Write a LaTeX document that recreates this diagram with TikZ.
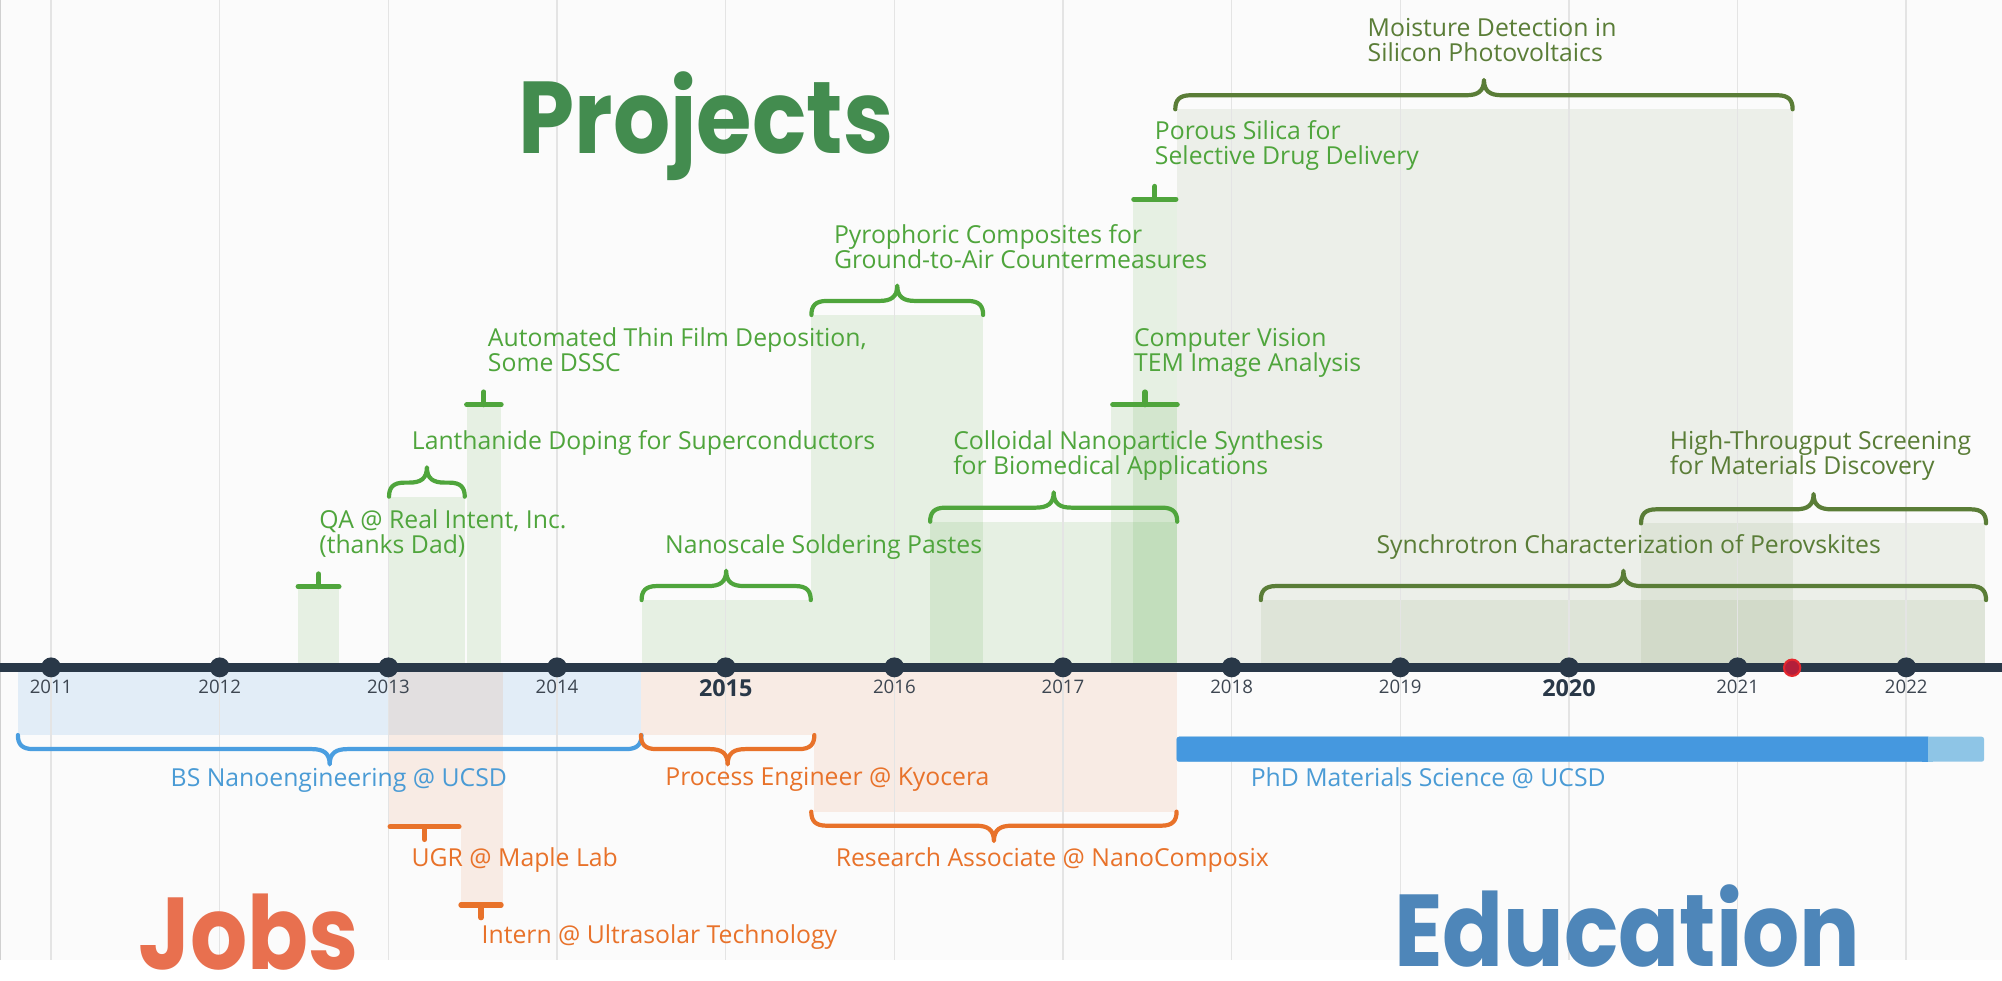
\documentclass[tikz,border=0pt]{standalone}
\usepackage{fontspec}
\setmainfont{Open Sans}
\newfontfamily\titlefont{Poppins}
\definecolor{bg}{HTML}{FBFBFB}
\definecolor{gridc}{HTML}{E4E4E4}
\definecolor{axisc}{HTML}{293848}
\definecolor{yearc}{HTML}{3D4651}
\definecolor{pgreen}{HTML}{4FA53C}
\definecolor{polive}{HTML}{5A7D37}
\definecolor{jorange}{HTML}{E8722A}
\definecolor{eblue}{HTML}{4A9BD5}
\definecolor{ebrace}{HTML}{4A9EE0}
\definecolor{tgreen}{HTML}{438C4F}
\definecolor{torange}{HTML}{E8704F}
\definecolor{tblue}{HTML}{4E86B9}
\definecolor{phddark}{HTML}{4598DF}
\definecolor{phdlight}{HTML}{8EC5E6}
\definecolor{reddot}{HTML}{B31E3A}
\definecolor{redring}{HTML}{E5282E}

% brace pointing up: x1, x2, y0 (tips), style
\newcommand{\UpBrace}[4]{%
  \draw[#4] (#1,#3) .. controls (#1,{#3-7}) and ({#1+3},{#3-11}) .. ({#1+12},{#3-11})
    -- ({(#1+#2)/2-14},{#3-11}) .. controls ({(#1+#2)/2-5},{#3-11}) and ({(#1+#2)/2},{#3-14}) .. ({(#1+#2)/2},{#3-23})
    .. controls ({(#1+#2)/2},{#3-14}) and ({(#1+#2)/2+5},{#3-11}) .. ({(#1+#2)/2+14},{#3-11})
    -- ({#2-12},{#3-11}) .. controls ({#2-3},{#3-11}) and (#2,{#3-7}) .. (#2,#3);}
% brace pointing down
\newcommand{\DownBrace}[4]{%
  \draw[#4] (#1,#3) .. controls (#1,{#3+7}) and ({#1+3},{#3+11}) .. ({#1+12},{#3+11})
    -- ({(#1+#2)/2-14},{#3+11}) .. controls ({(#1+#2)/2-5},{#3+11}) and ({(#1+#2)/2},{#3+14}) .. ({(#1+#2)/2},{#3+23})
    .. controls ({(#1+#2)/2},{#3+14}) and ({(#1+#2)/2+5},{#3+11}) .. ({(#1+#2)/2+14},{#3+11})
    -- ({#2-12},{#3+11}) .. controls ({#2-3},{#3+11}) and (#2,{#3+7}) .. (#2,#3);}
% tee markers
\newcommand{\UpTee}[4]{%
  \draw[#4] (#1,#3) -- (#2,#3);
  \draw[#4] ({(#1+#2)/2},#3) -- ({(#1+#2)/2},{#3-10});}
\newcommand{\DownTee}[4]{%
  \draw[#4] (#1,#3) -- (#2,#3);
  \draw[#4] ({(#1+#2)/2},#3) -- ({(#1+#2)/2},{#3+10});}

\tikzset{
  lab/.style={anchor=base west, align=left, inner sep=0pt, font=\fontsize{19.4}{19.6}\selectfont},
  glab/.style={lab, text=pgreen},
  olab/.style={lab, text=polive},
  jlab/.style={lab, text=jorange},
  elab/.style={lab, text=eblue},
  gbr/.style={draw=pgreen, line width=3.3pt, line cap=round, line join=round},
  obr/.style={draw=polive, line width=3.3pt, line cap=round, line join=round},
  jbr/.style={draw=jorange, line width=3.3pt, line cap=round, line join=round},
  ebr/.style={draw=ebrace, line width=3.3pt, line cap=round, line join=round},
  gtee/.style={draw=pgreen, line width=4pt, line cap=round},
  jtee/.style={draw=jorange, line width=4pt, line cap=round},
  gcol/.style={fill=pgreen, fill opacity=0.12},
  ocol/.style={fill=polive, fill opacity=0.09},
  jcol/.style={fill=jorange, fill opacity=0.11},
  ecol/.style={fill=ebrace, fill opacity=0.14},
  yearlab/.style={anchor=base, inner sep=0pt, text=yearc, font=\fontsize{14.6}{16}\selectfont},
  yearbold/.style={anchor=base, inner sep=0pt, text=axisc, font=\fontsize{18.3}{20}\selectfont\bfseries},
  title/.style={anchor=base west, inner sep=0pt, font=\titlefont\bfseries\fontsize{80}{90}\selectfont},
}

\begin{document}
\begin{tikzpicture}[x=1pt,y=-1pt]
\useasboundingbox (0,0) rectangle (1568,767.6);
\clip (0,0) rectangle (1568,767.6);
% background
\fill[white] (0,0) rectangle (1568,767.6);
\fill[bg] (0,0) rectangle (1568,752);
\draw[gridc!80!gray, line width=1pt] (0.6,0) -- (0.6,752);

% ---- project columns
\fill[gcol] (233.5,459.5) rectangle (265.5,522);
\fill[gcol] (304.7,389) rectangle (364,522);
\fill[gcol] (365.5,317) rectangle (392.5,522);
\fill[gcol] (502.5,470) rectangle (635,522);
\fill[gcol] (635.5,246.7) rectangle (770,522);
\fill[gcol] (728.5,408.6) rectangle (922,522);
\fill[gcol] (870,317) rectangle (922,522);
\fill[gcol] (887,156) rectangle (922,522);
\fill[ocol] (922,85.6) rectangle (1404,522);
\fill[ocol] (987.5,470) rectangle (1555,522);
\fill[ocol] (1285.3,409.9) rectangle (1555,522);
% ---- job / education columns
\fill[ecol] (14,526) rectangle (502.4,575.7);
\fill[jcol] (502,526) rectangle (637.8,575.7);
\fill[jcol] (637.8,526) rectangle (921.5,635.7);
\fill[jcol] (304,526) rectangle (360.7,647.5);
\fill[jcol] (360.7,526) rectangle (393.6,708.8);

% grid lines and years
\foreach \yr [count=\i from 0] in {2011,...,2022} {
  \draw[gridc, line width=1.2pt] ({40+132.09*\i},0) -- ({40+132.09*\i},752);
}
\draw[axisc, line width=7.6pt] (0,522.7) -- (1568,522.7);
\foreach \yr [count=\i from 0] in {2011,...,2022} {
  \fill[axisc] ({40+132.09*\i},522.7) circle (7.8pt);
  \node[coordinate] (d\yr) at ({40+132.09*\i},522.7) {};
}
\foreach \yr in {2011,2012,2013,2014,2016,2017,2018,2019,2021,2022} {
  \node[yearlab] (y\yr) at ([yshift=-20.8pt]d\yr) {\yr};
}
\node[yearbold] (y2015) at ([yshift=-22.9pt]d2015) {2015};
\node[yearbold] (y2020) at ([yshift=-22.9pt]d2020) {2020};
\filldraw[fill=reddot, draw=redring, line width=1.6pt] (1403.6,523) circle (6.4pt);
\node[coordinate] (now) at (1403.6,523) {};

% ---- PhD bar
\fill[phdlight, rounded corners=2pt] (921.5,577) rectangle (1554,596.6);
\fill[phddark, rounded corners=2pt] (921.5,577) rectangle (1512,596.6);
\fill[phddark] (1505,577) rectangle (1510,596.6);
\fill[phdlight] (1510,577) rectangle (1514,596.6);

% ---- project markers
\UpTee{233.5}{265.5}{459.5}{gtee}
\UpBrace{304.7}{364}{389}{gbr}
\UpTee{365.5}{392.5}{317}{gtee}
\UpBrace{502.5}{635}{470}{gbr}
\UpBrace{635.5}{770}{246.7}{gbr}
\UpBrace{728.5}{922}{408.6}{gbr}
\UpTee{871.5}{922}{317}{gtee}
\UpTee{888}{921}{156}{gtee}
\UpBrace{920.5}{1404}{85.6}{obr}
\UpBrace{987.5}{1555.5}{470}{obr}
\UpBrace{1285.3}{1555.5}{409.9}{obr}

% ---- job / education markers
\DownBrace{14}{502.4}{575.7}{ebr}
\DownBrace{502}{637.8}{575.7}{jbr}
\DownBrace{635.4}{921.5}{635.7}{jbr}
\DownTee{305.5}{359.5}{647.5}{jtee}
\DownTee{361}{392.5}{708.8}{jtee}

% ---- project labels (base = last line)
\node[glab] (qa) at (250,433.6) {QA @ Real Intent, Inc.\\(thanks Dad)};
\node[glab] (lan) at (322.4,352.4) {Lanthanide Doping for Superconductors};
\node[glab] (atf) at (382,291.1) {Automated Thin Film Deposition,\\Some DSSC};
\node[glab] (nsp) at (520.7,433.4) {Nanoscale Soldering Pastes};
\node[glab] (pyr) at (653,210.6) {Pyrophoric Composites for\\Ground-to-Air Countermeasures};
\node[glab] (col) at (746.4,371.6) {Colloidal Nanoparticle Synthesis\\for Biomedical Applications};
\node[glab] (cv) at (888,291.1) {Computer Vision\\TEM Image Analysis};
\node[glab] (por) at (904.4,129.2) {Porous Silica for\\Selective Drug Delivery};
\node[olab] (moi) at (1071,48.3) {Moisture Detection in\\Silicon Photovoltaics};
\node[olab] (syn) at (1078,433.4) {Synchrotron Characterization of Perovskites};
\node[olab] (hts) at (1307.7,372) {High-Througput Screening\\for Materials Discovery};

% ---- job / education labels
\node[elab] (bs) at (133.5,616) {BS Nanoengineering @ UCSD};
\node[jlab] (kyo) at (521,615.5) {Process Engineer @ Kyocera};
\node[elab] (phd) at (979.4,616) {PhD Materials Science @ UCSD};
\node[jlab] (ugr) at (322.2,678.3) {UGR @ Maple Lab};
\node[jlab] (ra) at (654.4,678.3) {Research Associate @ NanoComposix};
\node[jlab] (int) at (377.1,738.8) {Intern @ Ultrasolar Technology};

% ---- titles
\node[title, text=tgreen] (tproj) at (406,120.6) {\scalebox{0.88}[1]{Projects}};
\node[title, text=torange] (tjobs) at (108,759) {\scalebox{0.88}[1]{Jobs}};
\node[title, text=tblue] (tedu) at (1091.6,757) {\scalebox{0.88}[1]{Education}};
\end{tikzpicture}
\end{document}
